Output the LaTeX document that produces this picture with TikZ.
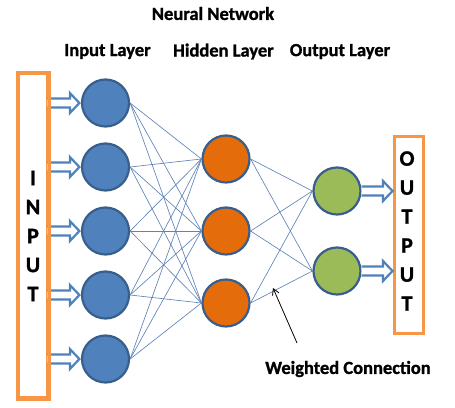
\documentclass[tikz,border=0pt]{standalone}
\usepackage{fontspec}
\setmainfont{Carlito}[BoldFeatures={FakeBold=1.2}]
\usetikzlibrary{calc,arrows.meta}
\definecolor{inc}{HTML}{4F81BD}
\definecolor{hidc}{HTML}{E46C0A}
\definecolor{outc}{HTML}{9BBB59}
\definecolor{nborder}{HTML}{3A5E8C}
\definecolor{boxc}{HTML}{F79646}
\definecolor{arrc}{HTML}{4F81BD}
\definecolor{connc}{HTML}{5F82B8}
\begin{document}
\begin{tikzpicture}[x=1pt,y=-1pt,
  neuron/.style={circle, draw=nborder, line width=2.2pt, minimum size=47pt, inner sep=0pt},
  conn/.style={draw=connc, line width=0.65pt},
  lbl/.style={font=\bfseries\fontsize{18.5}{20}\selectfont, inner sep=0pt},
  iobox/.style={draw=boxc, line width=3pt, fill=white, minimum width=29pt, inner sep=0pt},
  letters/.style={font=\bfseries\fontsize{22}{29}\selectfont, align=center, inner sep=0pt},
  harrow/.style={draw=arrc, line width=2.2pt, fill=white, line join=miter}]
\useasboundingbox (0,0) rectangle (455,407);

% titles
\node[lbl] (title) at (213,13.5) {Neural Network};
\node[lbl] (tin) at (107.5,51.5) {Input Layer};
\node[lbl] (thid) at (223.5,51.5) {Hidden Layer};
\node[lbl] (tout) at (340,51.5) {Output Layer};

% boxes
\node[iobox, minimum height=324pt] (inbox) at (33,235.5) {};
\node[letters] (intext) at (33,236) {I\\N\\P\\U\\T};
\node[iobox, minimum height=197pt] (outbox) at (409,235) {};
\node[letters] (outtext) at (407,231) {O\\U\\T\\P\\U\\T};

% neurons
\foreach \i/\y in {1/103,2/167,3/231,4/295,5/359}
  \node[neuron, fill=inc] (i\i) at (105.5,\y) {};
\foreach \h/\y in {1/159,2/231,3/303}
  \node[neuron, fill=hidc] (h\h) at (226,\y) {};
\foreach \o/\y in {1/191,2/271}
  \node[neuron, fill=outc] (o\o) at (337,\y) {};

% connections
\foreach \i in {1,...,5}
  \foreach \h in {1,2,3}
    \draw[conn] (i\i.east) -- (h\h.west);
\foreach \h in {1,2,3}
  \foreach \o in {1,2}
    \draw[conn] (h\h.east) -- (o\o.west);

% hollow input arrows
\foreach \i in {1,...,5}
  \path[harrow] let \p1=(inbox.east |- i\i), \p2=(i\i.west) in
    (\x1-1.5pt,\y1+4.5pt) -- (\x2-11pt,\y1+4.5pt) -- (\x2-11pt,\y1+10pt) -- (\x2-1.5pt,\y1)
    -- (\x2-11pt,\y1-10pt) -- (\x2-11pt,\y1-4.5pt) -- (\x1-1.5pt,\y1-4.5pt);
% hollow output arrows
\foreach \o in {1,2}
  \path[harrow] let \p1=(o\o.east), \p2=(outbox.west |- o\o) in
    (\x1,\y1+4.5pt) -- (\x2-10pt,\y1+4.5pt) -- (\x2-10pt,\y1+10pt) -- (\x2-0.5pt,\y1)
    -- (\x2-10pt,\y1-10pt) -- (\x2-10pt,\y1-4.5pt) -- (\x1,\y1-4.5pt);

% redraw box border on top
\draw[boxc, line width=3pt] (inbox.south west) rectangle (inbox.north east);

% weighted connection
\node[lbl] (wc) at (348,369) {Weighted Connection};
\coordinate (wtail) at (297,343);
\coordinate (wtip) at (273,288);
\draw[-{Straight Barb[length=6pt,width=7pt]}, line width=0.8pt] (wtail) -- (wtip);
\end{tikzpicture}
\end{document}
